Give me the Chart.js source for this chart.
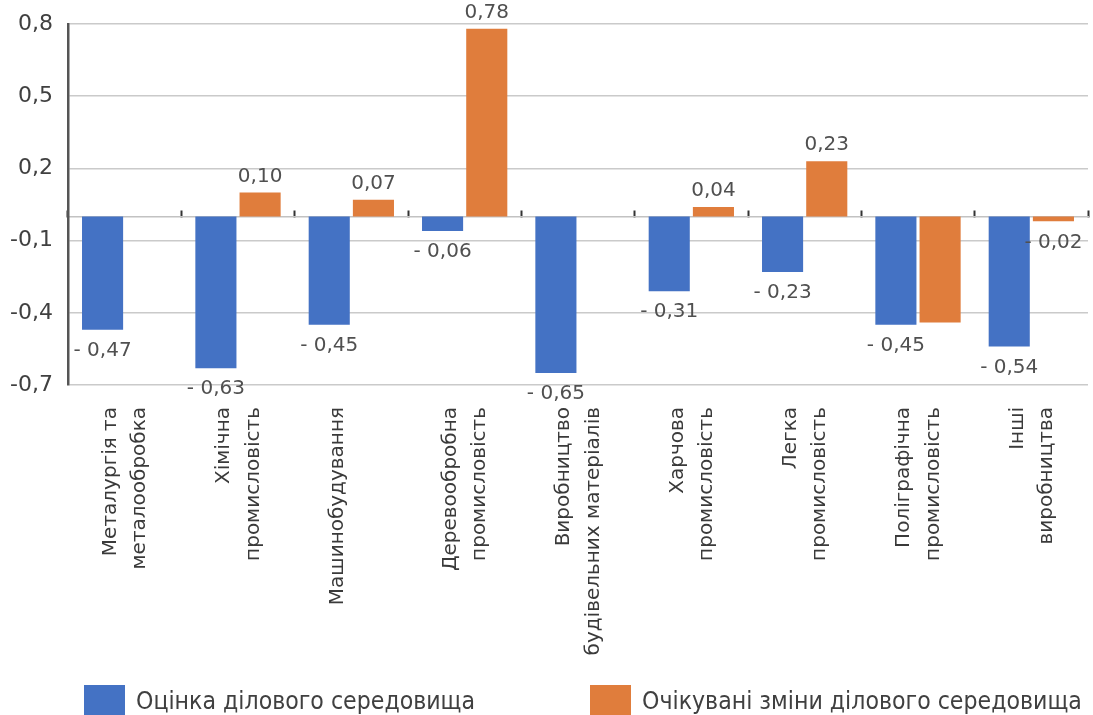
<!DOCTYPE html>
<html>
<head>
<meta charset="utf-8">
<script src="https://cdn.jsdelivr.net/npm/chart.js@4.4.0/dist/chart.umd.min.js"></script>
<style>
  html, body { margin: 0; padding: 0; background: #ffffff; }
  #wrap { position: relative; width: 1093px; height: 715px; overflow: hidden; }
  #c { position: absolute; left: 0; top: 0; }
  .legend-item {
    position: absolute; top: 685px; height: 31px;
    display: flex; align-items: center; white-space: nowrap;
    font-family: "DejaVu Sans Condensed", "DejaVu Sans", sans-serif;
    font-size: 24.6px; color: #404040;
  }
  .legend-box { width: 41px; height: 31px; margin-right: 11px; flex: none; }
</style>
</head>
<body>
<div id="wrap">
  <canvas id="c" width="1093" height="715"></canvas>
  <div id="legend"></div>
</div>
<script>
// Industry sectors (two-line labels where the caption wraps)
const categories = [
  ['Металургія та', 'металообробка'],
  ['Хімічна', 'промисловість'],
  ['Машинобудування'],
  ['Деревообробна', 'промисловість'],
  ['Виробництво', 'будівельних матеріалів'],
  ['Харчова', 'промисловість'],
  ['Легка', 'промисловість'],
  ['Поліграфічна', 'промисловість'],
  ['Інші', 'виробництва']
];

const seriesNames = ['Оцінка ділового середовища', 'Очікувані зміни ділового середовища'];

// Business environment assessment
const assessment = [-0.47, -0.63, -0.45, -0.06, -0.65, -0.31, -0.23, -0.45, -0.54];
// Expected changes of the business environment
const expected = [null, 0.10, 0.07, 0.78, null, 0.04, 0.23, -0.44, -0.02];

// Which bars carry a printed value
const assessmentLabelled = [true, true, true, true, true, true, true, true, true];
const expectedLabelled = [false, true, true, true, false, true, true, false, true];

// Value axis ticks
const yTicks = [-0.7, -0.4, -0.1, 0.2, 0.5, 0.8];

const colors = ['#4472C4', '#E07D3C'];

function fmtValue(v) {
  const s = Math.abs(v).toFixed(2).replace('.', ',');
  return v < 0 ? '- ' + s : s;
}

// Prints each bar's value beyond its end
const valueLabels = {
  id: 'valueLabels',
  afterDatasetsDraw(chart) {
    const ctx = chart.ctx;
    ctx.save();
    ctx.font = '20px "DejaVu Sans"';
    ctx.fillStyle = '#505050';
    ctx.textAlign = 'center';
    ctx.textBaseline = 'middle';
    chart.data.datasets.forEach((ds, di) => {
      const meta = chart.getDatasetMeta(di);
      meta.data.forEach((bar, i) => {
        const v = ds.data[i];
        if (v == null || !ds.labelled[i]) return;
        const p = bar.getProps(['x', 'y'], true);
        ctx.fillText(fmtValue(v), p.x, v >= 0 ? p.y - 16 : p.y + 21);
      });
    });
    ctx.restore();
  }
};

const chart = new Chart(document.getElementById('c'), {
  type: 'bar',
  data: {
    labels: categories,
    datasets: [
      { label: seriesNames[0], data: assessment, labelled: assessmentLabelled,
        backgroundColor: colors[0], categoryPercentage: 0.78, barPercentage: 0.93 },
      { label: seriesNames[1], data: expected, labelled: expectedLabelled,
        backgroundColor: colors[1], categoryPercentage: 0.78, barPercentage: 0.93 }
    ]
  },
  plugins: [valueLabels],
  options: {
    responsive: false,
    animation: false,
    devicePixelRatio: 1,
    layout: { padding: { top: 24, right: 5, left: 0, bottom: 0 } },
    plugins: { legend: { display: false }, tooltip: { enabled: false } },
    scales: {
      x: {
        grid: { display: false, drawTicks: false },
        border: { display: false },
        ticks: {
          autoSkip: false, minRotation: 90, maxRotation: 90, padding: 22,
          labelOffset: -14,
          color: '#3a3a3a',
          font: { family: 'DejaVu Sans', size: 20, lineHeight: 1.475 }
        },
        afterFit: s => { s.height = 330; s.paddingLeft = 0; s.paddingRight = 0; }
      },
      zero: {
        type: 'category', axis: 'x', position: { y: 0 },
        offset: true,
        grid: { offset: true, drawOnChartArea: false, drawTicks: true,
                tickLength: -7, tickColor: '#333333', tickWidth: 2 },
        border: { display: true, color: '#c2c2c2', width: 1.5 },
        ticks: { display: false },
        afterFit: s => { s.paddingLeft = 0; s.paddingRight = 0; }
      },
      y: {
        min: -0.7, max: 0.8,
        afterBuildTicks: axis => { axis.ticks = yTicks.map(value => ({ value })); },
        grid: { color: '#cacaca', lineWidth: 1.5, drawTicks: false },
        border: { display: true, color: '#555555', width: 2.5 },
        ticks: {
          padding: 15, color: '#404040',
          font: { family: 'DejaVu Sans', size: 22 },
          callback: v => Number(v).toFixed(1).replace('.', ',')
        },
        afterFit: s => { s.width = 68; s.paddingTop = 0; s.paddingBottom = 0; }
      }
    }
  }
});

// Legend built from the chart's own datasets
const legendLefts = [84, 590];
const legend = document.getElementById('legend');
chart.data.datasets.forEach((ds, i) => {
  const item = document.createElement('div');
  item.className = 'legend-item';
  item.style.left = legendLefts[i] + 'px';
  const box = document.createElement('span');
  box.className = 'legend-box';
  box.style.background = ds.backgroundColor;
  const text = document.createElement('span');
  text.textContent = ds.label;
  item.appendChild(box);
  item.appendChild(text);
  legend.appendChild(item);
});
</script>
</body>
</html>
